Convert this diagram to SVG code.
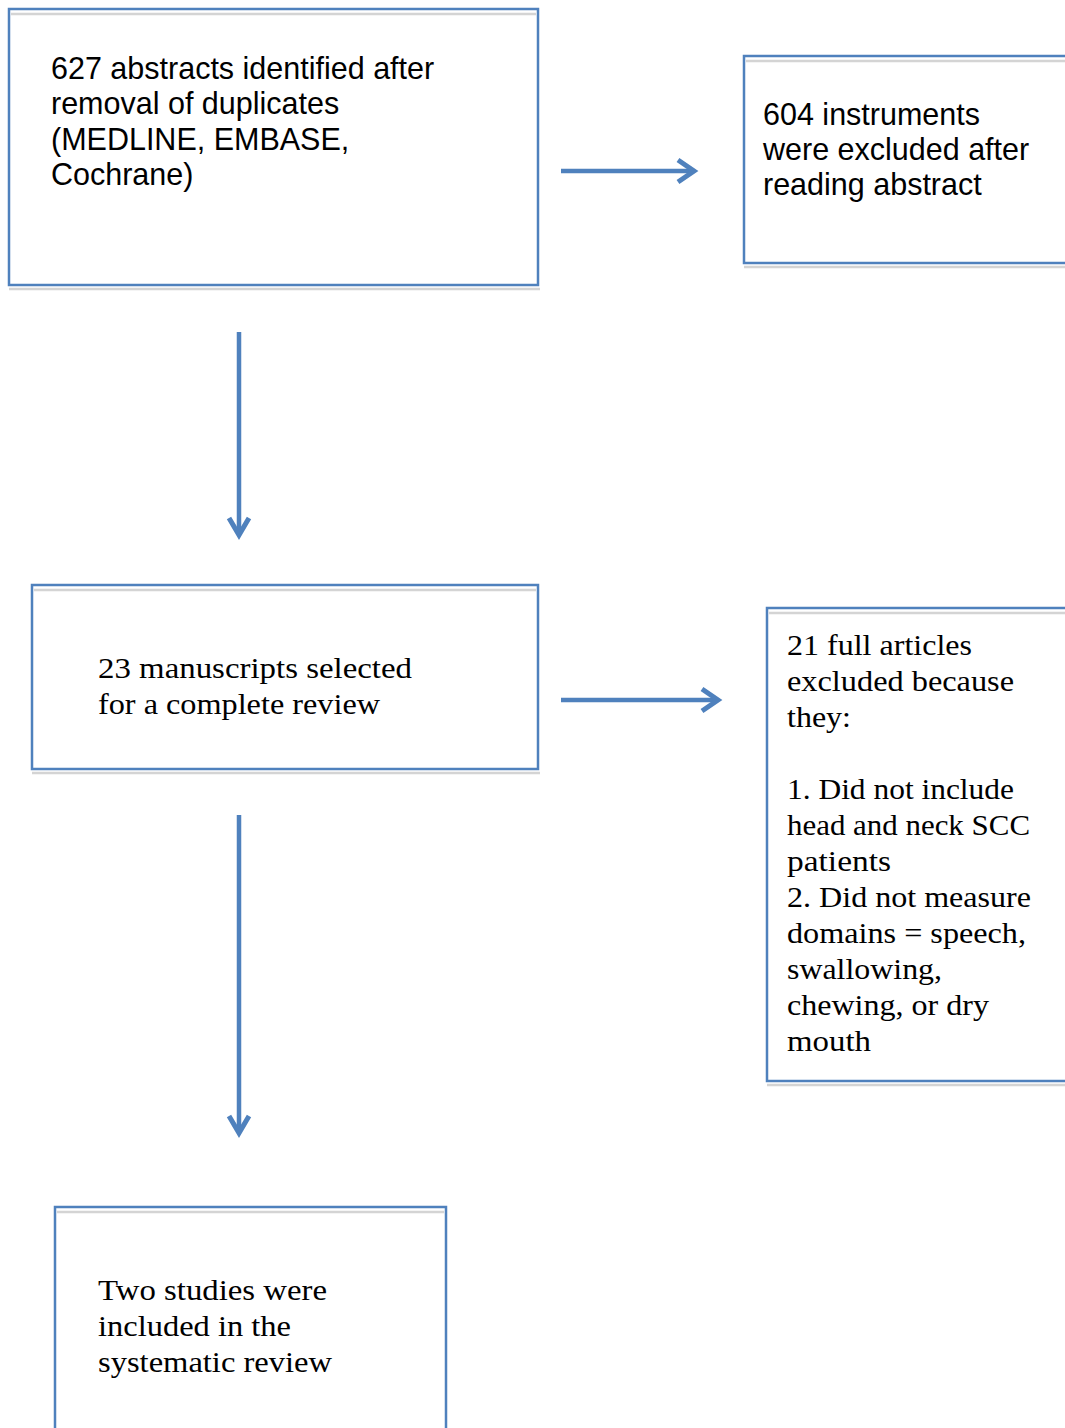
<svg xmlns="http://www.w3.org/2000/svg" width="1065" height="1428" viewBox="0 0 1065 1428">
  <style>
    .box { fill: #ffffff; stroke: #4f81bd; stroke-width: 2.5; }
    .shade { stroke: #d4d4d4; stroke-width: 2.5; fill: none; }
    .sans { font-family: "Liberation Sans", Arial, sans-serif; font-size: 30.5px; fill: #000000; }
    .serif { font-family: "Liberation Serif", "Times New Roman", serif; font-size: 30px; fill: #000000; }
    .link { stroke: #4f81bd; stroke-width: 4.5; fill: none; }
    .head { stroke: #4f81bd; stroke-width: 5; fill: none; stroke-linejoin: miter; stroke-linecap: butt; }
  </style>
  <rect width="1065" height="1428" fill="#ffffff"/>

  <!-- identification -->
  <g id="node-identified">
    <rect class="box" x="9" y="9" width="529" height="276"/>
    <line class="shade" x1="11" y1="14" x2="536" y2="14"/>
    <line class="shade" x1="9" y1="289" x2="540" y2="289"/>
    <text class="sans">
      <tspan x="51" y="79">627 abstracts identified after</tspan>
      <tspan x="51" y="114">removal of duplicates</tspan>
      <tspan x="51" y="150">(MEDLINE, EMBASE,</tspan>
      <tspan x="51" y="185">Cochrane)</tspan>
    </text>
  </g>

  <!-- excluded after abstract screening -->
  <g id="node-excluded-abstract">
    <rect class="box" x="744" y="56" width="340" height="207"/>
    <line class="shade" x1="746" y1="61" x2="1065" y2="61"/>
    <line class="shade" x1="744" y1="267" x2="1065" y2="267"/>
    <text class="sans">
      <tspan x="763" y="125">604 instruments</tspan>
      <tspan x="763" y="160">were excluded after</tspan>
      <tspan x="763" y="195">reading abstract</tspan>
    </text>
  </g>

  <!-- full-text review -->
  <g id="node-selected">
    <rect class="box" x="32" y="585" width="506" height="184"/>
    <line class="shade" x1="34" y1="590" x2="536" y2="590"/>
    <line class="shade" x1="32" y1="773" x2="540" y2="773"/>
    <text class="serif">
      <tspan x="98" y="678" textLength="314" lengthAdjust="spacingAndGlyphs">23 manuscripts selected</tspan>
      <tspan x="98" y="714" textLength="282" lengthAdjust="spacingAndGlyphs">for a complete review</tspan>
    </text>
  </g>

  <!-- excluded after full-text review -->
  <g id="node-excluded-full">
    <rect class="box" x="767" y="608" width="320" height="473"/>
    <line class="shade" x1="769" y1="613" x2="1065" y2="613"/>
    <line class="shade" x1="767" y1="1085" x2="1065" y2="1085"/>
    <text class="serif">
      <tspan x="787" y="655" textLength="185" lengthAdjust="spacingAndGlyphs">21 full articles</tspan>
      <tspan x="787" y="691" textLength="227" lengthAdjust="spacingAndGlyphs">excluded because</tspan>
      <tspan x="787" y="727" textLength="64" lengthAdjust="spacingAndGlyphs">they:</tspan>
      <tspan x="787" y="799" textLength="227" lengthAdjust="spacingAndGlyphs">1. Did not include</tspan>
      <tspan x="787" y="835" textLength="243" lengthAdjust="spacingAndGlyphs">head and neck SCC</tspan>
      <tspan x="787" y="871" textLength="104" lengthAdjust="spacingAndGlyphs">patients</tspan>
      <tspan x="787" y="907" textLength="244" lengthAdjust="spacingAndGlyphs">2. Did not measure</tspan>
      <tspan x="787" y="943" textLength="239" lengthAdjust="spacingAndGlyphs">domains = speech,</tspan>
      <tspan x="787" y="979" textLength="155" lengthAdjust="spacingAndGlyphs">swallowing,</tspan>
      <tspan x="787" y="1015" textLength="202" lengthAdjust="spacingAndGlyphs">chewing, or dry</tspan>
      <tspan x="787" y="1051" textLength="84" lengthAdjust="spacingAndGlyphs">mouth</tspan>
    </text>
  </g>

  <!-- included studies -->
  <g id="node-included">
    <rect class="box" x="55" y="1207" width="391" height="240"/>
    <line class="shade" x1="57" y1="1212" x2="444" y2="1212"/>
    <text class="serif">
      <tspan x="98" y="1300" textLength="229" lengthAdjust="spacingAndGlyphs">Two studies were</tspan>
      <tspan x="98" y="1336" textLength="193" lengthAdjust="spacingAndGlyphs">included in the</tspan>
      <tspan x="98" y="1372" textLength="234" lengthAdjust="spacingAndGlyphs">systematic review</tspan>
    </text>
  </g>

  <!-- connectors -->
  <g id="connectors">
    <line class="link" x1="561" y1="171" x2="694" y2="171"/>
    <polyline class="head" points="678,160 694,171 678,182"/>

    <line class="link" x1="239" y1="332" x2="239" y2="535"/>
    <polyline class="head" points="229,518 239,535 249,518"/>

    <line class="link" x1="561" y1="700" x2="718" y2="700"/>
    <polyline class="head" points="702,689 718,700 702,711"/>

    <line class="link" x1="239" y1="815" x2="239" y2="1133"/>
    <polyline class="head" points="229,1116 239,1133 249,1116"/>
  </g>
</svg>
